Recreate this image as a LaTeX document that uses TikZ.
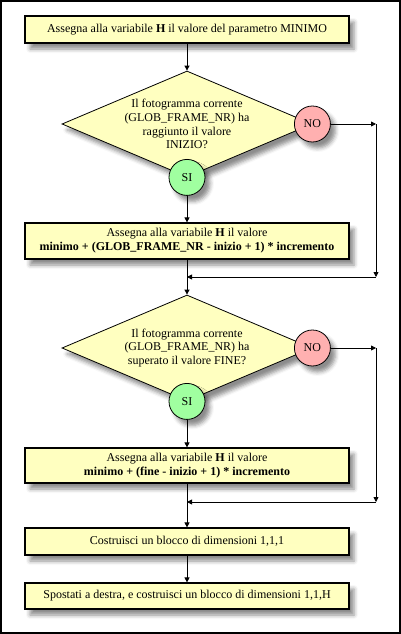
\documentclass[tikz,border=0pt]{standalone}
\usepackage{fontspec}
\setmainfont{Liberation Serif}
\usepackage{xcolor}
\usepackage{tikz}
\definecolor{boxfill}{HTML}{FFFFC0}
\definecolor{nofill}{HTML}{FFB0B0}
\definecolor{sifill}{HTML}{A0FFA0}
\tikzset{
	dropshadow/.style={
			blur shadow={shadow xshift=5pt, shadow yshift=-6pt,
					shadow blur radius=4pt, shadow opacity=45}
		}
}
\tikzstyle{step box} = [draw, line width=1.2pt, fill=boxfill, dropshadow,
	minimum width=324pt, inner sep=0pt, align=center]
\tikzstyle{decision} = [diamond, draw, line width=0.8pt, fill=boxfill, dropshadow,
	minimum width=250pt, minimum height=106pt, inner sep=0pt]
\tikzstyle{answer} = [circle, draw, line width=0.8pt, dropshadow,
	minimum size=36pt, inner sep=0pt]
\tikzstyle{a} = [draw, line width=0.8pt, black, -{Triangle[length=5pt,width=5pt]}]
\usetikzlibrary{arrows,arrows.meta,calc,shapes.geometric,shadows.blur}

\begin{document}
\begin{tikzpicture}[
    x=1pt, y=-1pt,
    every node/.style={align=center, font=\fontsize{12}{13.8}\selectfont}
]
\useasboundingbox (0,0) rectangle (401,634);
\draw[line width=1.6pt] (0.8,0.8) rectangle (400.2,633.2);

% Nodes
\node[step box, minimum height=27pt] (setmin) at (187,29.5)
	{Assegna alla variabile \textbf{H} il valore del parametro MINIMO};

\node[decision] (start) at (187,124) {};
\node at (start) {Il fotogramma corrente\\(GLOB\_FRAME\_NR) ha\\raggiunto il valore\\INIZIO?};
\node[answer, fill=nofill] (startno) at (start.east) {NO};
\node[answer, fill=sifill] (startsi) at (start.south) {SI};

\node[step box, minimum height=36pt] (setgrow) at (187,241)
	{Assegna alla variabile \textbf{H} il valore\\
	\textbf{minimo + (GLOB\_FRAME\_NR - inizio + 1) * incremento}};

\node[decision] (stop) at (187,348) {};
\node at (stop) {Il fotogramma corrente\\(GLOB\_FRAME\_NR) ha\\superato il valore FINE?};
\node[answer, fill=nofill] (stopno) at (stop.east) {NO};
\node[answer, fill=sifill] (stopsi) at (stop.south) {SI};

\node[step box, minimum height=35pt] (setmax) at (187,465.5)
	{Assegna alla variabile \textbf{H} il valore\\
	\textbf{minimo + (fine - inizio + 1) * incremento}};

\node[step box, minimum height=27pt] (unit) at (187,541.5)
	{Costruisci un blocco di dimensioni 1,1,1};
\node[step box, minimum height=26pt] (column) at (187,596)
	{Spostati a destra, e costruisci un blocco di dimensioni 1,1,H};

% Bends
\coordinate (startright) at (376,124);
\coordinate (startcorner) at (376,277);
\coordinate (startjoin) at (187,277);
\coordinate (stopright) at (376,348);
\coordinate (stopcorner) at (376,502);
\coordinate (stopjoin) at (187,502);

% Arrows
\draw[a] (setmin) -- (start);
\draw[a] (startsi) -- (setgrow);
\draw[a] (startno) -- (startright);
\draw[a] (startright) -- (startcorner);
\draw[a] (startcorner) -- (startjoin);
\draw[a] (setgrow) -- (stop);

\draw[a] (stopsi) -- (setmax);
\draw[a] (stopno) -- (stopright);
\draw[a] (stopright) -- (stopcorner);
\draw[a] (stopcorner) -- (stopjoin);
\draw[a] (setmax) -- (unit);
\draw[a] (unit) -- (column);

\end{tikzpicture}
\end{document}
